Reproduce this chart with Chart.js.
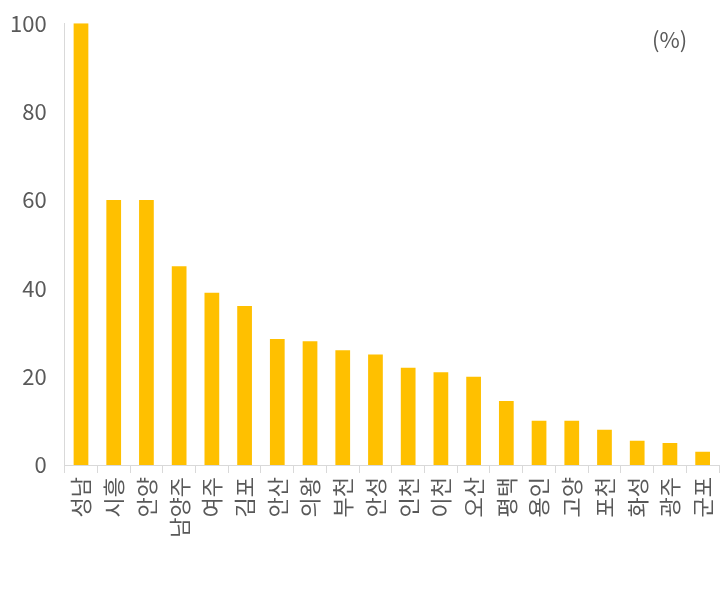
<!DOCTYPE html>
<html>
<head>
<meta charset="utf-8">
<script src="https://cdn.jsdelivr.net/npm/chart.js@4"></script>
<style>
  body { margin: 0; background: #fff; }
  #wrap { width: 725px; height: 589px; position: relative; }
</style>
</head>
<body>
<div id="wrap"><canvas id="chart"></canvas></div>
<script>
const cities = ["성남", "시흥", "안양", "남양주", "여주", "김포", "안산", "의왕", "부천", "안성",
  "인천", "이천", "오산", "평택", "용인", "고양", "포천", "화성", "광주", "군포"];
const shares = [100, 60, 60, 45, 39, 36, 28.5, 28, 26, 25, 22, 21, 20, 14.5, 10, 10, 8, 5.5, 5, 3];
const yTicks = [0, 20, 40, 60, 80, 100];

const font = "'Noto Sans CJK KR', 'Noto Sans', sans-serif";

// labels read bottom-to-top, so draw them ourselves
const verticalLabels = {
  id: "verticalLabels",
  afterDraw(chart) {
    const ctx = chart.ctx;
    const xs = chart.scales.x;
    ctx.save();
    ctx.fillStyle = "#595959";
    ctx.font = "22px " + font;
    ctx.textAlign = "right";
    ctx.textBaseline = "middle";
    cities.forEach((c, i) => {
      ctx.save();
      ctx.translate(xs.getPixelForValue(i), chart.chartArea.bottom + 12);
      ctx.rotate(-Math.PI / 2);
      ctx.fillText(c, 0, 0);
      ctx.restore();
    });
    ctx.textAlign = "left";
    ctx.fillText("(%)", 652, 40);
    ctx.restore();
  }
};

new Chart(document.getElementById("chart"), {
  type: "bar",
  data: {
    labels: cities,
    datasets: [{ data: shares, backgroundColor: "#FFC000", barPercentage: 0.45, categoryPercentage: 1 }]
  },
  options: {
    responsive: true,
    maintainAspectRatio: false,
    animation: false,
    layout: { padding: { top: 22, right: 6, bottom: 0, left: 0 } },
    plugins: { legend: { display: false }, tooltip: { enabled: false } },
    scales: {
      x: {
        grid: { offset: true, drawOnChartArea: false, tickLength: 8, color: "#d9d9d9" },
        border: { color: "#d9d9d9" },
        ticks: { display: false },
        afterFit(s) { s.height = 124; }
      },
      y: {
        min: 0, max: 100,
        afterBuildTicks(s) { s.ticks = yTicks.map(v => ({ value: v })); },
        grid: { display: false },
        border: { color: "#d9d9d9" },
        ticks: { color: "#595959", font: { family: font, size: 22 }, padding: 10 }
      }
    }
  },
  plugins: [verticalLabels]
});
</script>
</body>
</html>
